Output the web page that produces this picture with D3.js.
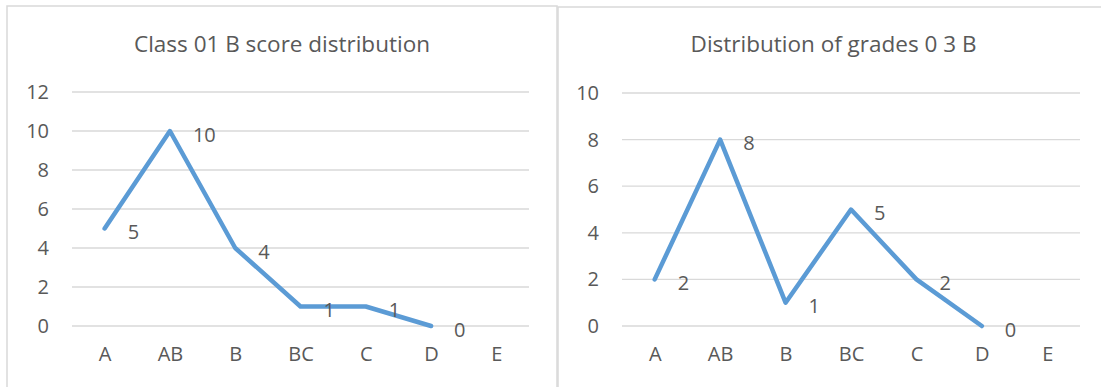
<!DOCTYPE html>
<html>
<head>
<meta charset="utf-8">
<script src="https://cdn.jsdelivr.net/npm/d3@7"></script>
<style>
  body { margin: 0; background: #fff; }
  text { font-family: "Open Sans", sans-serif; fill: #595959; }
</style>
</head>
<body>
<script>
// grade categories (same for both charts)
var categories = ["A", "AB", "B", "BC", "C", "D", "E"];

// Class 01 B - no value for E
var scoresClass01B = [5, 10, 4, 1, 1, 0, null];
var ticksClass01B = [0, 2, 4, 6, 8, 10, 12];

// grades 0 3 B
var scoresGrades03B = [2, 8, 1, 5, 2, 0, null];
var ticksGrades03B = [0, 2, 4, 6, 8, 10];

var width = 1101, height = 387;

var svg = d3.select("body").append("svg").attr("width", width).attr("height", height);

function drawChart(opt) {
    var g = svg.append("g");

    // chart frame
    g.append("rect")
        .attr("x", opt.box[0]).attr("y", opt.box[1])
        .attr("width", opt.box[2]).attr("height", opt.box[3])
        .attr("fill", "none").attr("stroke", "#d9d9d9").attr("stroke-width", 1.5);

    g.append("text")
        .attr("x", opt.box[0] + opt.box[2] / 2).attr("y", 52)
        .attr("text-anchor", "middle")
        .style("font-size", "22.5px")
        .text(opt.title);

    var x = d3.scalePoint().domain(categories).range([opt.left, opt.right]).padding(0.5);
    var y = d3.scaleLinear().domain([0, opt.max]).range([326, opt.top]);

    // gridlines
    g.append("g").selectAll("line").data(opt.ticks).enter()
        .append("line")
        .attr("x1", opt.left).attr("x2", opt.right)
        .attr("y1", function (d) { return y(d) }).attr("y2", function (d) { return y(d) })
        .attr("stroke", "#d9d9d9").attr("stroke-width", 1.3);

    // y axis labels
    var yAxis = g.append("g")
        .attr("transform", "translate(" + (opt.left - 23) + ",0)")
        .call(d3.axisLeft(y).tickValues(opt.ticks).tickSize(0).tickPadding(0));
    yAxis.select(".domain").remove();
    yAxis.selectAll("text").style("font-size", "20px").attr("fill", "#595959");

    // x axis labels
    var xAxis = g.append("g")
        .attr("transform", "translate(0,326)")
        .call(d3.axisBottom(x).tickSize(0).tickPadding(21));
    xAxis.select(".domain").remove();
    xAxis.selectAll("text").style("font-size", "20px").attr("fill", "#595959");

    var pts = categories.map(function (c, i) { return { cat: c, val: opt.values[i] } })
        .filter(function (d) { return d.val !== null });

    var line = d3.line()
        .x(function (d) { return x(d.cat) })
        .y(function (d) { return y(d.val) });

    g.append("path").datum(pts)
        .attr("d", line)
        .attr("fill", "none")
        .attr("stroke", "#5b9bd5")
        .attr("stroke-width", 4.5)
        .attr("stroke-linejoin", "round")
        .attr("stroke-linecap", "round");

    // data labels to the right of each point
    g.append("g").selectAll("text").data(pts).enter()
        .append("text")
        .attr("x", function (d) { return x(d.cat) + 23 })
        .attr("y", function (d) { return y(d.val) + 3.5 })
        .attr("dy", "0.35em")
        .style("font-size", "20px")
        .text(function (d) { return d.val });
}

drawChart({
    title: "Class 01 B score distribution",
    box: [7, 6, 550, 400],
    left: 72, right: 529, top: 92, max: 12,
    ticks: ticksClass01B, values: scoresClass01B
});

drawChart({
    title: "Distribution of grades 0 3 B",
    box: [558, 7, 551, 400],
    left: 622, right: 1080, top: 93, max: 10,
    ticks: ticksGrades03B, values: scoresGrades03B
});
</script>
</body>
</html>
